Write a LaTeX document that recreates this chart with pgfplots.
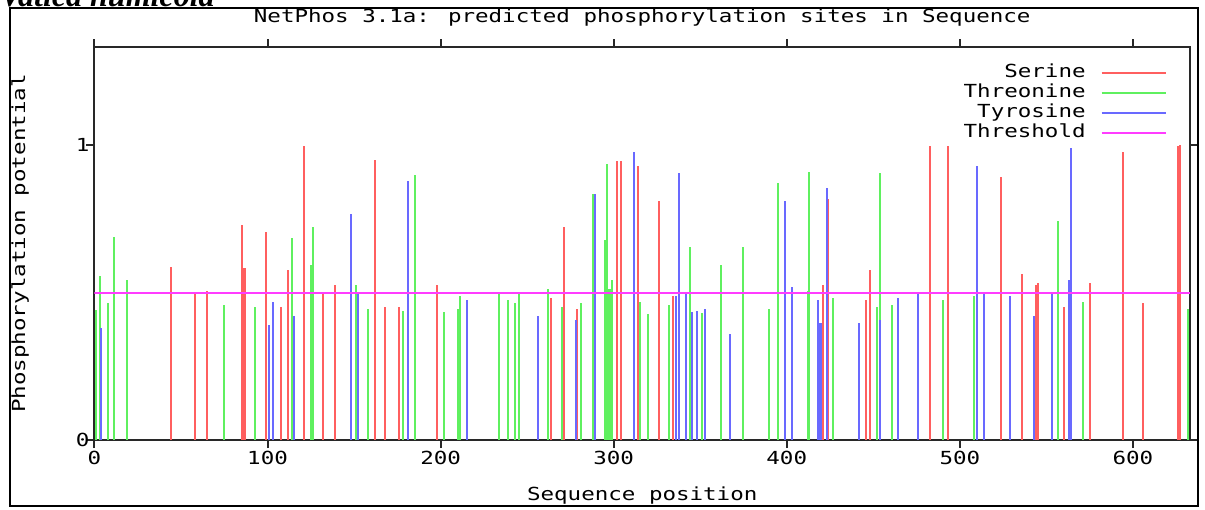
\documentclass[border=0pt]{standalone}
\usepackage{fontspec}
\setmainfont[FakeStretch=1.25]{DejaVu Sans Mono}
\newfontfamily\capfont{Liberation Serif}
\usepackage{pgfplots}
\pgfplotsset{compat=1.18}
\definecolor{ser}{RGB}{255,95,95}
\definecolor{thr}{RGB}{95,240,95}
\definecolor{tyr}{RGB}{105,105,255}
\definecolor{thresh}{RGB}{255,60,255}
\definecolor{axc}{RGB}{40,40,40}
\begin{document}
\begin{tikzpicture}[x=1pt,y=1pt,font=\fontsize{9}{10}\selectfont]
\begin{axis}[
  name=ax,
  scale only axis, width=547.75pt, height=196.5pt,
  xmin=0, xmax=633, ymin=0, ymax=1.333,
  xtick={0,100,...,600}, ytick={0,1},
  minor tick num=0,
  tick align=outside,
  major tick length=4pt,
  axis line style={line width=1pt, draw=axc},
  every tick/.style={line width=1pt, draw=axc},
  /pgf/number format/assume math mode=true,
  xticklabel style={yshift=2pt},
  yticklabel style={xshift=5pt},
  title={NetPhos 3.1a: predicted phosphorylation sites in Sequence},
  title style={at={(axis description cs:0.5,1.0455)}, anchor=center, inner sep=0},
  xlabel={Sequence position},
  xlabel style={at={(axis description cs:0.5,-0.1425)}, anchor=center, inner sep=0},
  ylabel={Phosphorylation potential},
  ylabel style={at={(axis description cs:-0.068,0.5)}, anchor=center, inner sep=0},
  legend plot pos=right,
  legend cell align=right,
  legend style={draw=none, fill=none, at={(axis description cs:0.979,0.96)}, anchor=north east,
    row sep=0pt, column sep=6.5pt, inner sep=0pt,
    nodes={inner sep=1pt, text height=6pt, text depth=2pt}},
  legend image code/.code={\draw[#1, line width=1pt] (0pt,0pt) -- (32pt,0pt);},
]
\addplot[ycomb, mark=none, draw=ser, line width=1pt] coordinates {
(44,0.588) (58,0.498) (65,0.507) (85,0.730) (86,0.583) (87,0.583) (99,0.705) (108,0.450)
(112,0.575) (121,0.998) (132,0.498) (139,0.526) (162,0.949) (168,0.452) (176,0.452)
(198,0.526) (264,0.483) (271,0.724) (279,0.444) (302,0.947) (304,0.947) (314,0.929)
(326,0.810) (334,0.488) (421,0.525) (424,0.817) (446,0.475) (448,0.575) (483,0.998)
(493,0.998) (524,0.892) (536,0.563) (544,0.526) (545,0.532) (560,0.450) (575,0.532)
(594,0.977) (606,0.464) (626,0.998) (627,1.000)
};
\addlegendentry{Serine}
\addplot[ycomb, mark=none, draw=thr, line width=1pt] coordinates {
(1,0.440) (3,0.555) (8,0.464) (11,0.687) (19,0.544) (75,0.458) (93,0.450) (114,0.686)
(125,0.594) (126,0.723) (151,0.526) (158,0.444) (178,0.439) (185,0.898) (202,0.433)
(210,0.444) (211,0.490) (234,0.495) (239,0.476) (243,0.465) (245,0.495) (262,0.513)
(270,0.452) (281,0.464) (288,0.836) (295,0.680) (296,0.935) (297,0.512) (298,0.512)
(299,0.543) (315,0.468) (320,0.426) (332,0.457) (344,0.654) (351,0.432) (362,0.593)
(375,0.654) (390,0.444) (395,0.872) (412,0.507) (413,0.909) (427,0.481) (452,0.450)
(454,0.904) (461,0.457) (490,0.475) (508,0.489) (557,0.743) (571,0.468) (632,0.444)
};
\addlegendentry{Threonine}
\addplot[ycomb, mark=none, draw=tyr, line width=1pt] coordinates {
(4,0.380) (101,0.390) (103,0.469) (115,0.420) (148,0.768) (152,0.498) (181,0.879)
(215,0.476) (256,0.420) (278,0.408) (289,0.836) (312,0.977) (336,0.488) (338,0.904)
(342,0.495) (345,0.433) (348,0.439) (353,0.444) (367,0.358) (399,0.810) (403,0.520)
(418,0.475) (419,0.396) (420,0.396) (423,0.855) (442,0.396) (454,0.407) (464,0.482)
(476,0.495) (510,0.929) (514,0.495) (529,0.489) (543,0.420) (553,0.495) (563,0.543)
(564,0.991)
};
\addlegendentry{Tyrosine}
\addplot[mark=none, draw=thresh, line width=1pt] coordinates {(0,0.5) (633,0.5)};
\addlegendentry{Threshold}
\end{axis}
\begin{scope}[shift={(ax.south west)}]
\draw[line width=1pt, black] (-42.25,-33) rectangle (551.75,216);
\node[anchor=base west, inner sep=0, font=\capfont\bfseries\itshape\fontsize{16}{18}\selectfont] at (-47.25,216.8) {Vatica humicola};
\end{scope}
\pgfresetboundingbox
\path[use as bounding box, shift={(ax.south west)}] (-47.25,-34.5) rectangle (555.25,220);
\end{tikzpicture}
\end{document}
